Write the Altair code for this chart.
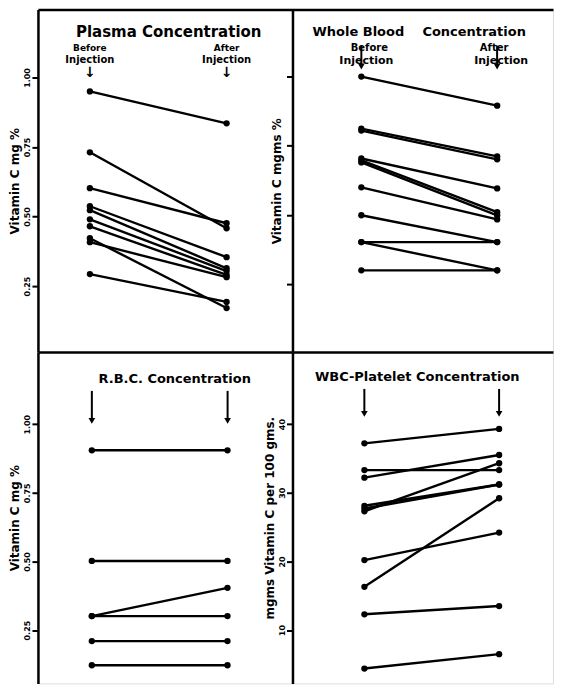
import altair as alt
import pandas as pd

FONT = "DejaVu Sans"

# ---- data ----
plasma_before = [0.950, 0.731, 0.602, 0.537, 0.523, 0.490, 0.465, 0.422, 0.408, 0.293]
plasma_after = [0.835, 0.458, 0.476, 0.354, 0.314, 0.304, 0.290, 0.171, 0.282, 0.193]

blood_before = [1.000, 0.812, 0.805, 0.704, 0.697, 0.690, 0.600, 0.499, 0.402, 0.402, 0.300]
blood_after = [0.895, 0.712, 0.701, 0.596, 0.510, 0.499, 0.484, 0.402, 0.402, 0.300, 0.300]

rbc_before = [0.905, 0.502, 0.301, 0.301, 0.210, 0.122]
rbc_after = [0.905, 0.502, 0.404, 0.301, 0.210, 0.122]

wbc_before = [37.2, 33.3, 32.2, 28.1, 27.7, 27.3, 20.2, 16.3, 12.3, 4.4]
wbc_after = [39.3, 33.3, 35.5, 31.2, 31.2, 34.3, 24.2, 29.2, 13.5, 6.5]

mg_ticks = [0.25, 0.50, 0.75, 1.00]
wbc_ticks = [10, 20, 30, 40]


def text_layer(txt, x, y, size=11, weight="bold", align="center"):
    return alt.Chart(pd.DataFrame({"t": [txt]})).mark_text(
        font=FONT, fontSize=size, fontWeight=weight, align=align, baseline="middle", color="black"
    ).encode(x=alt.value(x), y=alt.value(y), text="t:N")


def arrow_layers(x, y1, y2):
    d = pd.DataFrame({"a": [0]})
    rule = alt.Chart(d).mark_rule(color="black", strokeWidth=2).encode(
        x=alt.value(x), y=alt.value(y1), y2=alt.value(y2 - 4))
    head = alt.Chart(d).mark_point(shape="triangle-down", filled=True, color="black", size=45, opacity=1).encode(
        x=alt.value(x), y=alt.value(y2 - 3))
    return [rule, head]


def panel(before, after, dom_x, dom_y, w, h, ticks, fmt, show_labels, title, annotations):
    rows = []
    for i, (b, a) in enumerate(zip(before, after)):
        rows.append({"id": i, "x": 0, "v": b})
        rows.append({"id": i, "x": 1, "v": a})
    df = pd.DataFrame(rows)
    x = alt.X("x:Q", scale=alt.Scale(domain=dom_x, nice=False, zero=False),
              axis=alt.Axis(orient="top", labels=False, ticks=False, title=None, grid=False,
                            domainWidth=2.5, domainColor="black", minExtent=0, maxExtent=0))
    y = alt.Y("v:Q", scale=alt.Scale(domain=dom_y, nice=False, zero=False),
              axis=alt.Axis(values=ticks, format=fmt, labels=show_labels, title=title, grid=False,
                            domainWidth=2.5, domainColor="black", tickColor="black", tickWidth=2,
                            tickSize=6, labelAngle=270, labelAlign="center", labelBaseline="bottom",
                            labelFont=FONT, labelFontSize=8, labelFontWeight="bold", labelColor="black",
                            labelPadding=0, titleFont=FONT, titleFontSize=12, titleFontWeight="bold",
                            titleColor="black", titlePadding=2))
    base = alt.Chart(df)
    lines = base.mark_line(color="black", strokeWidth=2.4).encode(x=x, y=y, detail="id:N")
    pts = base.mark_point(filled=True, color="black", size=40, opacity=1).encode(x=x, y=y)
    return alt.layer(lines, pts, *annotations).properties(width=w, height=h)


tl = panel(plasma_before, plasma_after, [-0.380, 1.482], [0.013, 1.244], 255, 343,
           mg_ticks, ".2f", True, "Vitamin C mg %",
           [text_layer("Plasma  Concentration", 131, 22, size=15),
            text_layer("Before", 52, 38, size=9), text_layer("Injection", 52, 50, size=10),
            text_layer("↓", 52, 64, size=14),
            text_layer("After", 189, 38, size=9), text_layer("Injection", 189, 50, size=10),
            text_layer("↓", 189, 64, size=14)])

tr = panel(blood_before, blood_after, [-0.507, 1.411], [0.005, 1.242], 261, 343,
           mg_ticks, ".2f", False, "Vitamin C mgms %",
           [text_layer("Whole Blood", 66, 22, size=13), text_layer("Concentration", 182, 22, size=13),
            text_layer("Before", 77, 38, size=10), text_layer("Injection", 74, 51, size=11),
            text_layer("After", 202, 38, size=10), text_layer("Injection", 209, 51, size=11),
            *arrow_layers(69, 36, 60), *arrow_layers(205, 36, 60)])

bl = panel(rbc_before, rbc_after, [-0.397, 1.479], [0.056, 1.263], 255, 332,
           mg_ticks, ".2f", True, "Vitamin C mg %",
           [text_layer("R.B.C. Concentration", 137, 27, size=13),
            *arrow_layers(54, 39, 72), *arrow_layers(190, 39, 72)])

br = panel(wbc_before, wbc_after, [-0.534, 1.400], [2.24, 50.5], 261, 332,
           wbc_ticks, "d", True, "mgms Vitamin C per 100 gms.",
           [text_layer("WBC-Platelet  Concentration", 125, 25, size=13),
            *arrow_layers(72, 37, 65), *arrow_layers(207, 37, 65)])

chart = alt.concat(tl, tr, bl, br, columns=2, spacing=0, bounds="flush").properties(
    padding={"left": 0, "top": 0, "right": 0, "bottom": 0}
).configure_view(stroke=None).configure(background="white")

chart.save("out.html", embed_options={"renderer": "svg", "actions": False})
